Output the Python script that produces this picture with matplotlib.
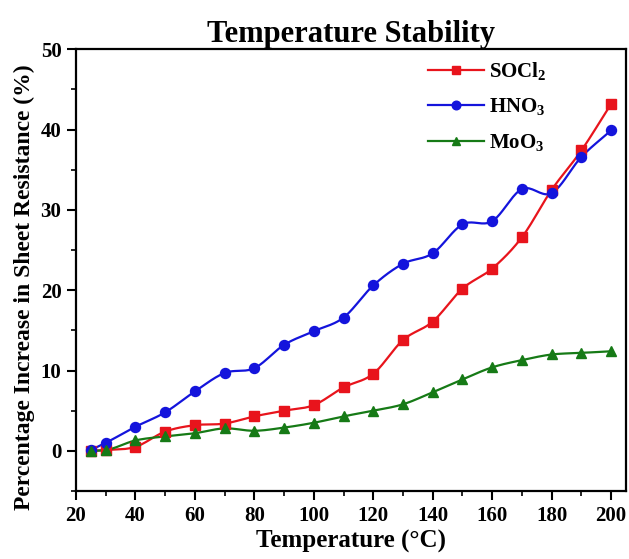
# Temperature stability of doped films - sheet resistance increase vs temperature
import numpy as np
import matplotlib
matplotlib.use("Agg")
import matplotlib.pyplot as plt
from matplotlib.lines import Line2D
from matplotlib.ticker import MultipleLocator

# DATOS
temp = [25, 30, 40, 50, 60, 70, 80, 90, 100, 110, 120, 130, 140, 150, 160, 170, 180, 190, 200]

socl2 = [0.0, 0.1, 0.5, 2.4, 3.2, 3.4, 4.3, 5.0, 5.7, 7.9, 9.6, 13.8, 16.1, 20.2, 22.7, 26.6, 32.5, 37.4, 43.2]
hno3 = [0.1, 1.0, 3.0, 4.8, 7.4, 9.7, 10.3, 13.2, 14.9, 16.6, 20.6, 23.3, 24.6, 28.2, 28.6, 32.6, 32.1, 36.6, 39.9]
moo3 = [0.0, 0.1, 1.3, 1.8, 2.2, 2.8, 2.5, 2.9, 3.5, 4.3, 5.0, 5.8, 7.3, 8.9, 10.4, 11.3, 12.0, 12.2, 12.4]

series = [
    ("SOCl$_2$", socl2, "#e8141c", "s"),
    ("HNO$_3$", hno3, "#1414dc", "o"),
    ("MoO$_3$", moo3, "#167a16", "^"),
]

# FUENTES
plt.rcParams["font.family"] = "Liberation Serif"
plt.rcParams["font.weight"] = "bold"
plt.rcParams["mathtext.fontset"] = "custom"
plt.rcParams["mathtext.rm"] = "Liberation Serif:bold"
plt.rcParams["mathtext.bf"] = "Liberation Serif:bold"
plt.rcParams["mathtext.default"] = "bf"


def curva_suave(x, y, n=20):
    # hermite cubico con tangentes por diferencias finitas (solo para dibujar la linea)
    x = np.asarray(x, float)
    y = np.asarray(y, float)
    m = np.gradient(y, x)
    xs, ys = [], []
    for i in range(len(x) - 1):
        h = x[i + 1] - x[i]
        t = np.linspace(0, 1, n, endpoint=False)
        h00 = 2 * t**3 - 3 * t**2 + 1
        h10 = t**3 - 2 * t**2 + t
        h01 = -2 * t**3 + 3 * t**2
        h11 = t**3 - t**2
        xs.append(x[i] + t * h)
        ys.append(h00 * y[i] + h10 * h * m[i] + h01 * y[i + 1] + h11 * h * m[i + 1])
    xs.append([x[-1]])
    ys.append([y[-1]])
    return np.concatenate(xs), np.concatenate(ys)


fig = plt.figure(figsize=(6.29, 5.59), dpi=100)
ax = fig.add_axes([0.1208, 0.1216, 0.8744, 0.7902])

handles = []
for nombre, valores, color, marca in series:
    xs, ys = curva_suave(temp, valores)
    ax.plot(xs, ys, color=color, linewidth=1.6, zorder=2)
    ax.plot(temp, valores, linestyle="none", marker=marca, color=color,
            markersize=7.2, zorder=3)
    # entrada de leyenda (marcador mas chico)
    handles.append(Line2D([], [], color=color, marker=marca, markersize=6.2,
                          linewidth=1.6, label=nombre))

ax.set_xlim(20, 205)
ax.set_ylim(-5, 50)
ax.xaxis.set_major_locator(MultipleLocator(20))
ax.xaxis.set_minor_locator(MultipleLocator(10))
ax.yaxis.set_major_locator(MultipleLocator(10))
ax.yaxis.set_minor_locator(MultipleLocator(5))

ax.tick_params(which="major", direction="out", length=6.5, width=1.5, labelsize=15, pad=4)
ax.tick_params(which="minor", direction="out", length=3.5, width=1.2)
for s in ax.spines.values():
    s.set_linewidth(1.6)

ax.set_title("Temperature Stability", fontsize=22, fontweight="bold", pad=5)
ax.set_xlabel("Temperature (\u00b0C)", fontsize=18, fontweight="bold", labelpad=3)
ax.set_ylabel("Percentage Increase in Sheet Resistance (%)", fontsize=17,
              fontweight="bold")
ax.yaxis.set_label_coords(-0.074, 0.462)

ax.legend(handles=handles, loc="upper left", frameon=False, fontsize=15,
          handlelength=2.7, borderaxespad=0.0, labelspacing=0.7,
          handletextpad=0.25, bbox_to_anchor=(0.624, 0.995))

plt.savefig("out.png", dpi=100)
